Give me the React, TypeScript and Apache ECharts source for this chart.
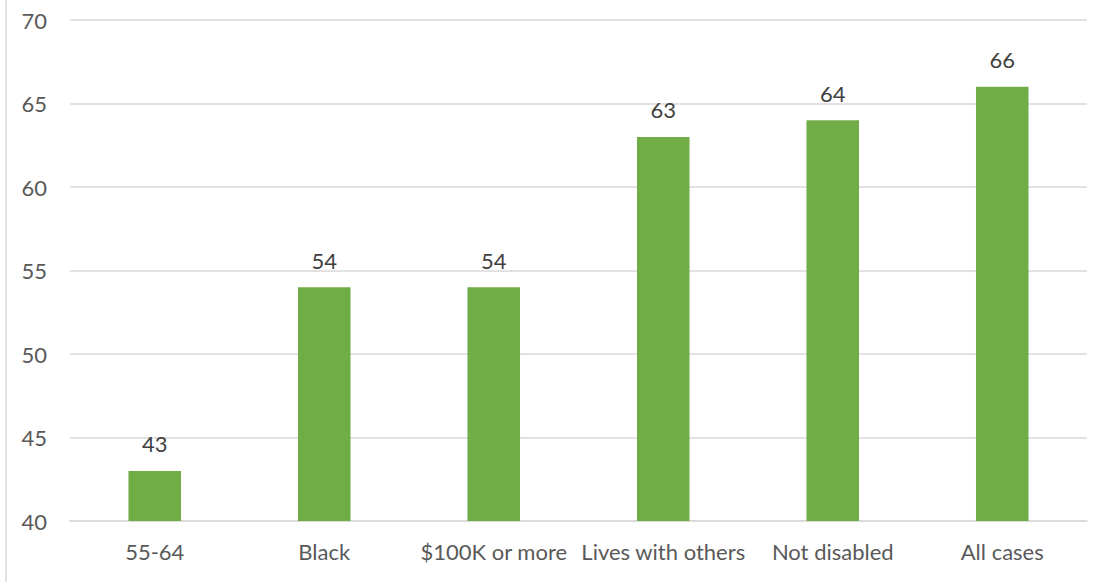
import React, { useEffect, useRef } from "react";
import * as echarts from "echarts";

const categories = ["55-64", "Black", "$100K or more", "Lives with others", "Not disabled", "All cases"];
const values = [43, 54, 54, 63, 64, 66];

export default function App() {
  const ref = useRef<HTMLDivElement>(null);
  useEffect(() => {
    if (!ref.current) return;
    const chart = echarts.init(ref.current, undefined, { renderer: "svg" });
    const font = "Lato, 'Open Sans', sans-serif";
    chart.setOption({
      animation: false,
      textStyle: { fontFamily: font },
      grid: { left: 70, right: 25, top: 20, bottom: 61, containLabel: false },
      xAxis: {
        type: "category",
        data: categories,
        axisLine: { show: true, lineStyle: { color: "#d9d9d9", width: 1.5 } },
        axisTick: { show: false },
        axisLabel: { color: "#595959", fontSize: 22, fontFamily: font, margin: 19, interval: 0 },
      },
      yAxis: {
        type: "value",
        min: 40,
        max: 70,
        interval: 5,
        axisLine: { show: false },
        axisTick: { show: false },
        splitLine: { lineStyle: { color: "#d9d9d9", width: 1.5 } },
        axisLabel: { color: "#595959", fontSize: 22, fontFamily: font, margin: 23 },
      },
      graphic: [
        { type: "line", shape: { x1: 6, y1: 0, x2: 6, y2: 582 }, style: { stroke: "#d9d9d9", lineWidth: 1.5 } },
      ],
      series: [
        {
          type: "bar",
          data: values,
          barWidth: "31%",
          itemStyle: { color: "#70AD47" },
          label: { show: true, position: "top", distance: 16, color: "#404040", fontSize: 22, fontFamily: font },
        },
      ],
    });
    return () => chart.dispose();
  }, []);
  return <div ref={ref} style={{ position: "absolute", left: 0, top: 0, width: 1112, height: 582, background: "#fff" }} />;
}
